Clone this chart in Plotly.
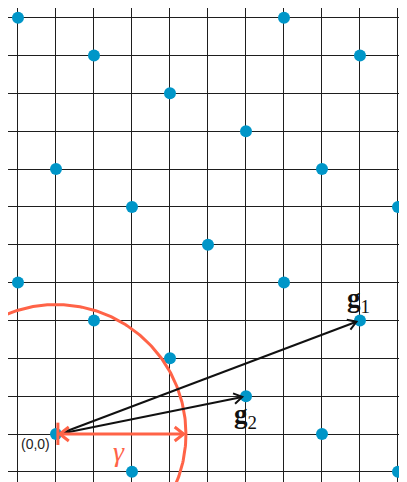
import numpy as np
import plotly.graph_objects as go

# Lattice points (grid coordinates)
pts_x = [-1, 1, 3, 5, 7, 9, 6, 8, 0, 2, 4, 6, 8, -1, 1, 3, 5, 7, 9, 0, 2]
pts_y = [11, 10, 9, 8, 7, 6, 11, 10, 7, 6, 5, 4, 3, 4, 3, 2, 1, 0, -1, 0, -1]

# Basis vectors
g1 = [8, 3]
g2 = [5, 1]
gamma_r = 3.42

grid_x = list(range(-1, 10))
grid_y = list(range(-1, 12))

BLUE = "#0096C8"
RED = "#FF6347"
BLACK = "#111111"

fig = go.Figure()

fig.add_trace(go.Scatter(x=pts_x, y=pts_y, mode="markers",
                         marker=dict(size=12, color=BLUE), hoverinfo="skip"))


def chevron(tip, direction, L=0.26, ang=32):
    d = np.array(direction, float)
    d = d / np.linalg.norm(d)
    out = []
    for s in (1, -1):
        a = np.radians(ang) * s
        rot = np.array([[np.cos(a), -np.sin(a)], [np.sin(a), np.cos(a)]])
        back = rot @ (-d)
        out.append(np.array(tip) + L * back)
    return [out[0][0], tip[0], out[1][0]], [out[0][1], tip[1], out[1][1]]


# circle
th = np.linspace(0, 2 * np.pi, 400)
fig.add_trace(go.Scatter(x=gamma_r * np.cos(th), y=gamma_r * np.sin(th), mode="lines",
                         line=dict(color=RED, width=3), hoverinfo="skip"))

# black arrows
for g in (g1, g2):
    v = np.array(g, float)
    tip = v - 0.1 * v / np.linalg.norm(v)
    fig.add_trace(go.Scatter(x=[0.08, tip[0]], y=[0, tip[1]], mode="lines",
                             line=dict(color=BLACK, width=2), hoverinfo="skip"))
    cx, cy = chevron(tip, v)
    fig.add_trace(go.Scatter(x=cx, y=cy, mode="lines",
                             line=dict(color=BLACK, width=2), hoverinfo="skip"))

# red gamma double arrow
left = np.array([0.1, 0.0])
right = np.array([gamma_r - 0.06, 0.0])
fig.add_trace(go.Scatter(x=[left[0], right[0]], y=[0, 0], mode="lines",
                         line=dict(color=RED, width=3), hoverinfo="skip"))
for tip, d in ((left, [-1, 0]), (right, [1, 0])):
    cx, cy = chevron(tip, d, L=0.3, ang=38)
    fig.add_trace(go.Scatter(x=cx, y=cy, mode="lines",
                             line=dict(color=RED, width=3), hoverinfo="skip"))
fig.add_trace(go.Scatter(x=[0.05, 0.05], y=[-0.29, 0.3], mode="lines",
                         line=dict(color=RED, width=3), hoverinfo="skip"))

annots = [
    dict(x=g1[0] - 0.05, y=g1[1] + 0.55, text="<b>g</b><sub>1</sub>",
         font=dict(family="Liberation Serif", size=27, color=BLACK)),
    dict(x=g2[0] - 0.02, y=g2[1] - 0.52, text="<b>g</b><sub>2</sub>",
         font=dict(family="Liberation Serif", size=27, color=BLACK)),
    dict(x=-0.53, y=-0.27, text="(0,0)",
         font=dict(family="Liberation Sans", size=14, color="#222222")),
    dict(x=1.65, y=-0.47, text="<i>γ</i>",
         font=dict(family="Liberation Serif", size=28, color=RED)),
]
for a in annots:
    fig.add_annotation(xref="x", yref="y", showarrow=False, **a)

fig.update_layout(
    width=399, height=474,
    margin=dict(l=0, r=0, t=0, b=0),
    paper_bgcolor="white", plot_bgcolor="white",
    showlegend=False,
    xaxis=dict(range=[-1.263, 9.237], tickmode="array", tickvals=grid_x,
               showticklabels=False, showgrid=True, gridcolor="#1e1e1e",
               gridwidth=1.4, zeroline=False, showline=False, ticks=""),
    yaxis=dict(range=[-1.268, 11.255], tickmode="array", tickvals=grid_y,
               showticklabels=False, showgrid=True, gridcolor="#1e1e1e",
               gridwidth=1.4, zeroline=False, showline=False, ticks=""),
)

fig.write_html("out.html")
